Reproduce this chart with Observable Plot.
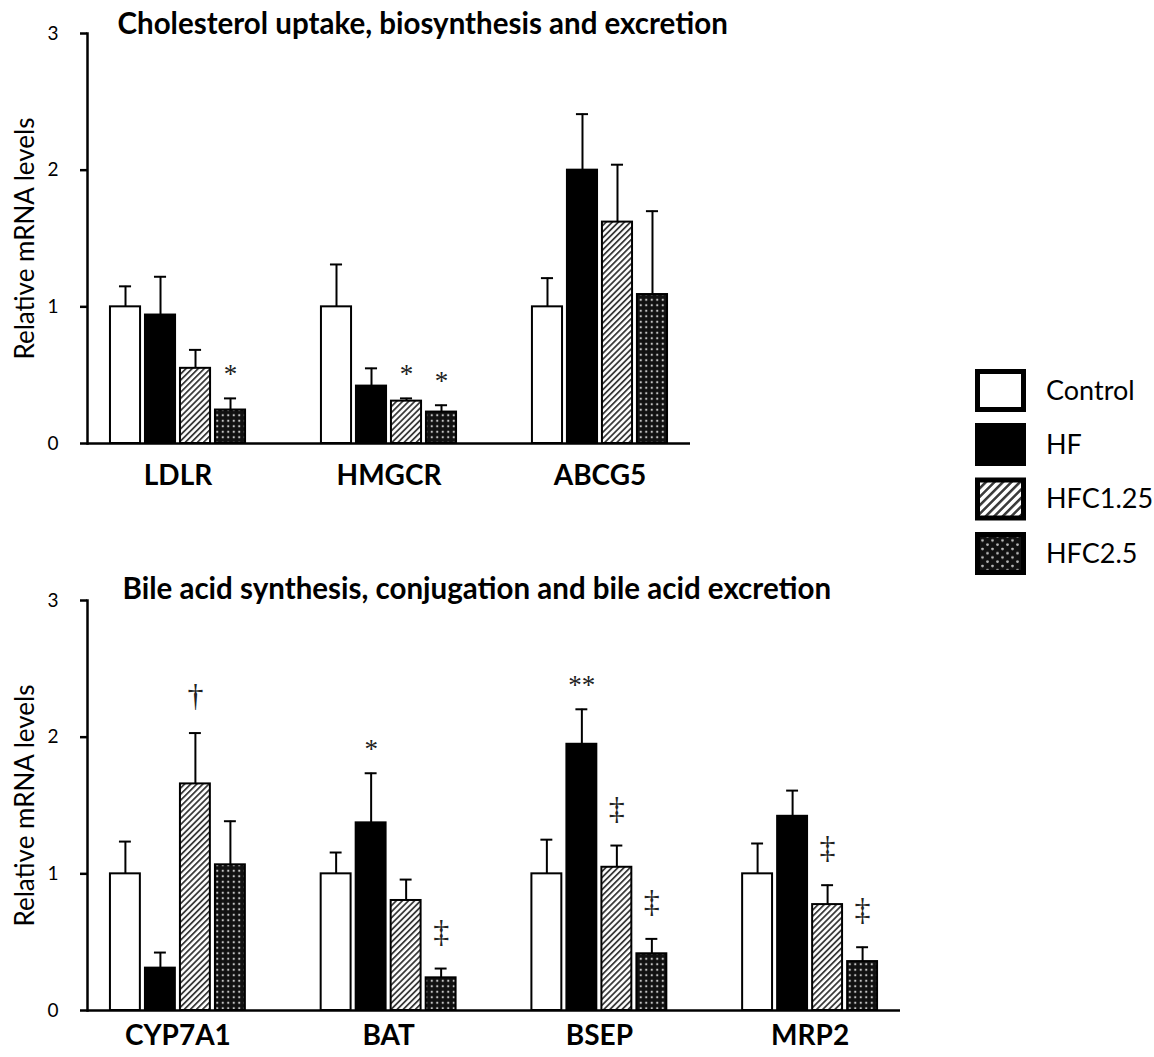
<!DOCTYPE html>
<html>
<head>
<meta charset="utf-8">
<script src="https://cdn.jsdelivr.net/npm/d3@7"></script>
<script src="https://cdn.jsdelivr.net/npm/@observablehq/plot@0.6"></script>
<style>
  body { margin: 0; background: #fff; width: 1154px; height: 1057px; position: relative; overflow: hidden; font-family: Lato, sans-serif; }
  #chol, #bile, #legend { position: absolute; }
  #chol { left: 0; top: 0; }
  #bile { left: 0; top: 560px; }
  #legend { left: 970px; top: 360px; }
</style>
</head>
<body>
<div id="chol"></div>
<div id="bile"></div>
<div id="legend"></div>
<script>
// Treatment groups (legend order)
const groups = ["Control", "HF", "HFC1.25", "HFC2.5"];

// Panel 1: cholesterol uptake, biosynthesis and excretion
const cholGenes = ["LDLR", "HMGCR", "ABCG5"];
const cholControl = [1.00, 1.00, 1.00];
const cholControlErr = [0.15, 0.31, 0.21];
const cholHF = [0.94, 0.42, 2.00];
const cholHFErr = [0.28, 0.13, 0.41];
const cholHFC125 = [0.55, 0.31, 1.62];
const cholHFC125Err = [0.135, 0.02, 0.42];
const cholHFC25 = [0.245, 0.23, 1.09];
const cholHFC25Err = [0.085, 0.05, 0.61];
const cholNotes = [["", "", ""], ["", "", ""], ["", "*", ""], ["*", "*", ""]];

// Panel 2: bile acid synthesis, conjugation and excretion
const bileGenes = ["CYP7A1", "BAT", "BSEP", "MRP2"];
const bileControl = [1.00, 1.00, 1.00, 1.00];
const bileControlErr = [0.236, 0.156, 0.25, 0.222];
const bileHF = [0.31, 1.373, 1.948, 1.421];
const bileHFErr = [0.114, 0.363, 0.256, 0.188];
const bileHFC125 = [1.658, 0.805, 1.048, 0.775];
const bileHFC125Err = [0.372, 0.153, 0.159, 0.142];
const bileHFC25 = [1.066, 0.239, 0.415, 0.358];
const bileHFC25Err = [0.319, 0.068, 0.109, 0.105];
const bileNotes = [["", "", "", ""], ["", "*", "**", ""], ["†", "", "‡", "‡"], ["", "‡", "‡", "‡"]];

const yTicks = [0, 1, 2, 3];

function rowsFor(genes, means, errs, notes) {
  const rows = [];
  genes.forEach((gene, j) => groups.forEach((group, i) => {
    rows.push({gene, group, mean: means[i][j], top: means[i][j] + errs[i][j], note: notes[i][j]});
  }));
  return rows;
}

// Hatched and dotted fills shared by bars and legend swatches
function patternDefs(prefix, s, legend) {
  return () => {
    const defs = d3.create("svg:defs");
    const hw = 4.3 * s;
    const h = defs.append("pattern").attr("id", prefix + "hatch")
      .attr("patternUnits", "userSpaceOnUse").attr("width", hw).attr("height", hw)
      .attr("patternTransform", "rotate(45)");
    h.append("rect").attr("width", hw).attr("height", hw).attr("fill", "#fff");
    h.append("rect").attr("width", 1.8 * s).attr("height", hw).attr("fill", "#3a3a3a");
    const dw = legend ? 10 : 5.5, dh = legend ? 8.5 : 5.5;
    const p = defs.append("pattern").attr("id", prefix + "dots")
      .attr("patternUnits", "userSpaceOnUse").attr("width", dw).attr("height", dh);
    p.append("rect").attr("width", dw).attr("height", dh).attr("fill", "#111");
    if (legend) {
      p.append("circle").attr("cx", 2.5).attr("cy", 2).attr("r", 1.4).attr("fill", "#bbb");
      p.append("circle").attr("cx", 7.5).attr("cy", 6.25).attr("r", 1.4).attr("fill", "#bbb");
    } else {
      p.append("circle").attr("cx", dw / 2).attr("cy", dh / 2).attr("r", 1.15).attr("fill", "#c4c4c4");
    }
    return defs.node();
  };
}

function fillsFor(prefix) {
  return ["#fff", "#000", `url(#${prefix}hatch)`, `url(#${prefix}dots)`];
}

function panel({id, genes, rows, title, width, height, marginTop, marginBottom, xEnd, titleDx, titleDy, labelPad}) {
  const slot = 35, bar = 30, cap = 12;
  const n = groups.length;
  const fills = fillsFor(id);
  const marks = [patternDefs(id, 1, false)];
  groups.forEach((g, i) => {
    const data = rows.filter(d => d.group === g);
    const off = (i - (n - 1) / 2) * slot;
    // error bar stem and cap
    marks.push(Plot.ruleX(data, {x: "gene", y1: "mean", y2: "top", dx: off, stroke: "#000", strokeWidth: 2}));
    marks.push(Plot.tickY(data, {
      x: "gene", y: "top",
      insetLeft: slot * i + (slot - cap) / 2, insetRight: slot * (n - 1 - i) + (slot - cap) / 2,
      stroke: "#000", strokeWidth: 2
    }));
    // bar
    marks.push(Plot.barY(data, {
      x: "gene", y: "mean",
      insetLeft: slot * i + (slot - bar) / 2, insetRight: slot * (n - 1 - i) + (slot - bar) / 2,
      fill: fills[i], stroke: "#000", strokeWidth: 2
    }));
    // significance marks above the error bars
    marks.push(Plot.text(data.filter(d => d.note.startsWith("*")), {
      x: "gene", y: "top", text: "note", dx: off, dy: -24,
      fontFamily: "Liberation Serif", fontSize: 27, fill: "#222"
    }));
    marks.push(Plot.text(data.filter(d => d.note && !d.note.startsWith("*")), {
      x: "gene", y: "top", text: "note", dx: off, dy: -37,
      fontFamily: "Liberation Serif", fontSize: 32, fill: "#222"
    }));
  });
  marks.push(
    Plot.ruleY([0], {stroke: "#000", strokeWidth: 2.5}),
    Plot.frame({anchor: "left", stroke: "#000", strokeWidth: 2.5}),
    Plot.axisY({ticks: yTicks, tickFormat: d3.format("d"), tickSize: 7, tickPadding: 22, strokeWidth: 2.5, fontSize: 19, label: null}),
    Plot.axisX({tickSize: 0, tickPadding: labelPad, fontSize: 28, fontWeight: "bold", label: null}),
    Plot.text(["Relative mRNA levels"], {frameAnchor: "left", rotate: -90, dx: -54, textAnchor: "middle", lineAnchor: "bottom", text: d => d, fontSize: 26}),
    Plot.text([title], {frameAnchor: "top-left", dx: titleDx, dy: titleDy, lineAnchor: "bottom", textAnchor: "start", text: d => d, fontSize: 29.5, fontWeight: "bold"})
  );
  return Plot.plot({
    width, height, marginTop, marginBottom, marginLeft: 87, marginRight: width - xEnd,
    style: {fontFamily: "Lato, sans-serif", color: "#000", background: "#fff", overflow: "visible"},
    x: {domain: genes, range: [87, xEnd], paddingInner: 0.336, paddingOuter: 0.097, round: false, axis: null},
    y: {domain: [0, 3], axis: null},
    marks
  });
}

document.getElementById("chol").append(panel({
  id: "c",
  genes: cholGenes,
  rows: rowsFor(cholGenes, [cholControl, cholHF, cholHFC125, cholHFC25], [cholControlErr, cholHFErr, cholHFC125Err, cholHFC25Err], cholNotes),
  title: "Cholesterol uptake, biosynthesis and excretion",
  width: 740, height: 500, marginTop: 33, marginBottom: 57, xEnd: 690,
  titleDx: 30, titleDy: 0, labelPad: 22
}));

document.getElementById("bile").append(panel({
  id: "b",
  genes: bileGenes,
  rows: rowsFor(bileGenes, [bileControl, bileHF, bileHFC125, bileHFC25], [bileControlErr, bileHFErr, bileHFC125Err, bileHFC25Err], bileNotes),
  title: "Bile acid synthesis, conjugation and bile acid excretion",
  width: 920, height: 497, marginTop: 40, marginBottom: 47, xEnd: 900,
  titleDx: 35, titleDy: -2, labelPad: 15
}));

// Legend: framed swatches with group names
(function legend() {
  const svg = d3.create("svg").attr("width", 184).attr("height", 222)
    .style("font-family", "Lato, sans-serif");
  svg.append(patternDefs("lg", 1.4, true));
  const fills = fillsFor("lg");
  const tops = [9, 63, 117.5, 172];
  groups.forEach((g, i) => {
    svg.append("rect").attr("x", 7.5).attr("y", tops[i] + 2.5).attr("width", 46).attr("height", 38)
      .attr("fill", fills[i]).attr("stroke", "#000").attr("stroke-width", 5);
    svg.append("text").attr("x", 76).attr("y", tops[i] + 21.5).attr("dy", "0.35em")
      .attr("font-size", 27).attr("fill", "#000").text(g);
  });
  document.getElementById("legend").append(svg.node());
})();
</script>
</body>
</html>
